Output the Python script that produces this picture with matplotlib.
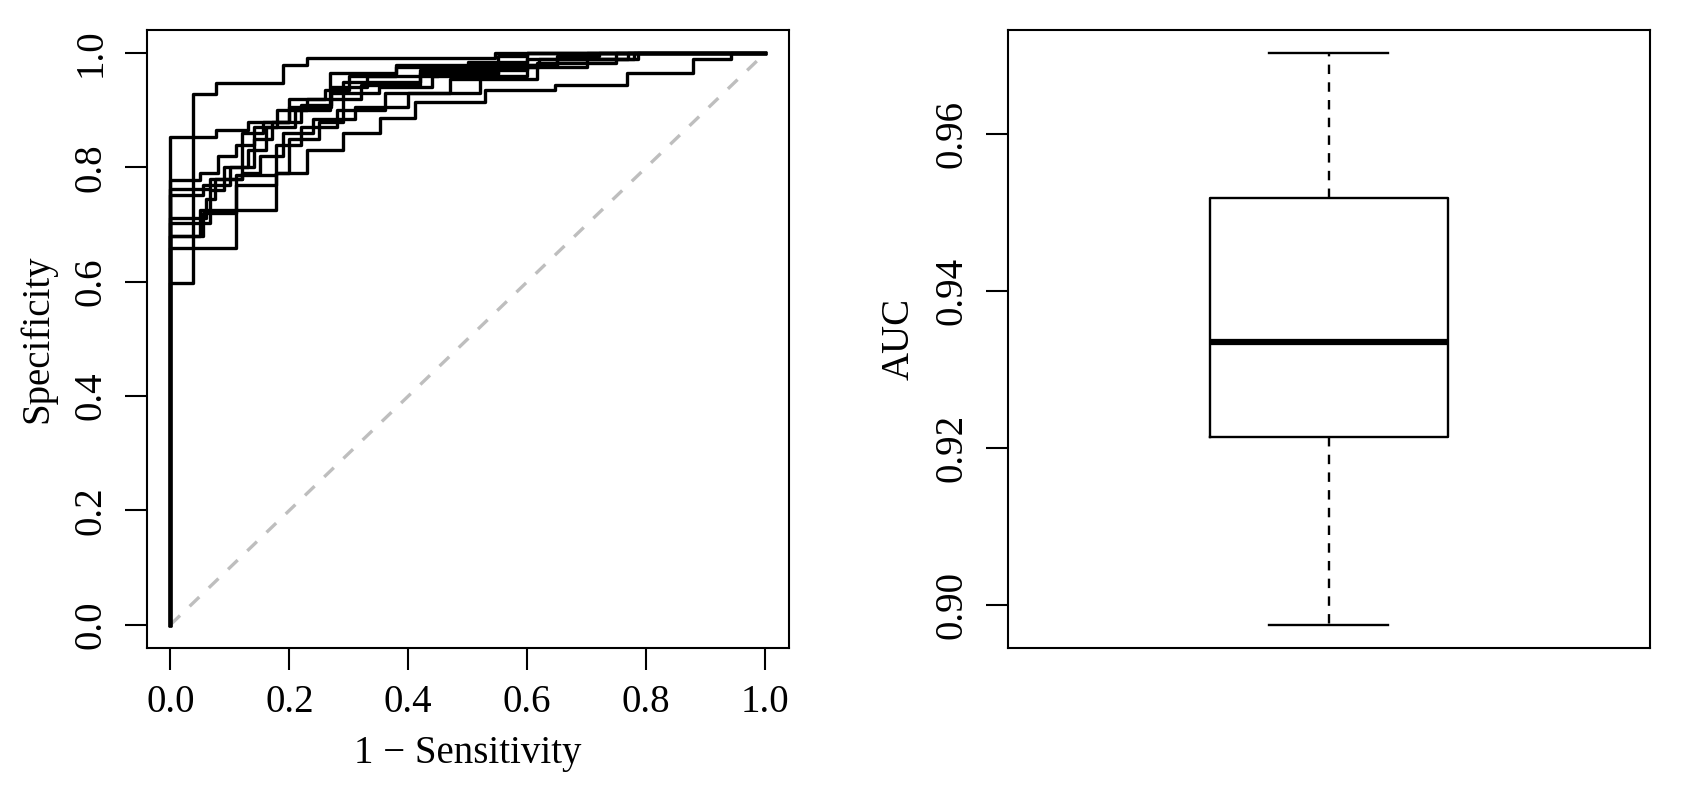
import numpy as np
import matplotlib
matplotlib.use("Agg")
import matplotlib.pyplot as plt

plt.rcParams['font.family'] = ['Liberation Serif', 'DejaVu Serif']

# ROC curves: x = 1 - Sensitivity break points, y = Specificity levels
roc_x = [
    [0, 0, 0.038, 0.077, 0.189, 0.229, 0.546, 1.0],
    [0, 0, 0.077, 0.131, 0.200, 0.270, 0.330, 0.450, 0.620, 0.750, 1.0],
    [0, 0, 0.111, 0.178, 0.220, 0.280, 0.360, 0.470, 0.616, 0.750, 0.786, 1.0],
    [0, 0, 0.050, 0.178, 0.200, 0.250, 0.290, 0.420, 0.600, 0.700, 1.0],
    [0, 0, 0.066, 0.090, 0.130, 0.160, 0.210, 0.268, 0.380, 0.550, 0.600, 1.0],
    [0, 0, 0.060, 0.075, 0.120, 0.150, 0.190, 0.240, 0.310, 0.400, 0.520, 0.600, 0.700, 0.780, 1.0],
    [0, 0, 0.055, 0.100, 0.140, 0.170, 0.200, 0.260, 0.300, 0.380, 0.500, 0.600, 1.0],
    [0, 0, 0.066, 0.120, 0.155, 0.220, 0.270, 0.350, 0.440, 0.550, 0.650, 0.720, 1.0],
    [0, 0, 0.050, 0.080, 0.110, 0.140, 0.180, 0.230, 0.320, 0.420, 0.550, 0.650, 0.770, 1.0],
    [0, 0, 0.055, 0.110, 0.178, 0.230, 0.290, 0.352, 0.411, 0.529, 0.646, 0.767, 0.879, 0.943, 1.0],
]
roc_y = [
    [0, 0.598, 0.928, 0.947, 0.979, 0.991, 1.0, 1.0],
    [0, 0.854, 0.865, 0.880, 0.905, 0.940, 0.960, 0.975, 0.990, 1.0, 1.0],
    [0, 0.659, 0.787, 0.840, 0.870, 0.900, 0.930, 0.955, 0.982, 0.990, 1.0, 1.0],
    [0, 0.680, 0.725, 0.790, 0.850, 0.880, 0.950, 0.970, 0.990, 1.0, 1.0],
    [0, 0.702, 0.760, 0.800, 0.830, 0.870, 0.900, 0.965, 0.980, 0.995, 1.0, 1.0],
    [0, 0.711, 0.745, 0.780, 0.790, 0.820, 0.860, 0.885, 0.905, 0.930, 0.960, 0.975, 0.990, 1.0, 1.0],
    [0, 0.752, 0.770, 0.800, 0.850, 0.880, 0.920, 0.935, 0.960, 0.975, 0.985, 1.0, 1.0],
    [0, 0.763, 0.780, 0.860, 0.880, 0.910, 0.930, 0.940, 0.960, 0.980, 0.995, 1.0, 1.0],
    [0, 0.778, 0.790, 0.820, 0.840, 0.870, 0.900, 0.920, 0.945, 0.965, 0.980, 0.990, 1.0, 1.0],
    [0, 0.680, 0.720, 0.770, 0.790, 0.830, 0.860, 0.886, 0.915, 0.935, 0.944, 0.965, 0.989, 1.0, 1.0],
]

# AUC of each model
auc = [0.8975, 0.9150, 0.9214, 0.9262, 0.9310, 0.9361, 0.9440, 0.9519, 0.9598, 0.9703]

fig = plt.figure(figsize=(16.89, 7.85), dpi=100)
ax1 = fig.add_axes([0.0868, 0.175, 0.3803, 0.7865])
ax2 = fig.add_axes([0.5966, 0.175, 0.3802, 0.7865])

fs = 28
lw_axis = 1.5

# left: ROC curves
ax1.plot([0, 1], [0, 1], color='#BEBEBE', lw=2.4, dashes=(4, 4))
for xs, ys in zip(roc_x, roc_y):
    ax1.step(xs, ys, where='post', color='black', lw=2.4)

ax1.set_xlim(-0.04, 1.04)
ax1.set_ylim(-0.04, 1.04)
ticks = np.arange(0, 1.01, 0.2)
ax1.set_xticks(ticks)
ax1.set_yticks(ticks)
ax1.set_xticklabels(['%.1f' % t for t in ticks])
ax1.set_yticklabels(['%.1f' % t for t in ticks])
ax1.set_xlabel('1 \u2212 Sensitivity', fontsize=fs, labelpad=10)
ax1.set_ylabel('Specificity', fontsize=fs, labelpad=12)

# right: AUC boxplot (Tukey hinges like R)
a = np.sort(np.array(auc))
n = len(a)
half = (n + 1) // 2
stats = [dict(med=np.median(a), q1=np.median(a[:half]), q3=np.median(a[n - half:]),
              whislo=a.min(), whishi=a.max(), fliers=[])]
ax2.bxp(stats, positions=[1], widths=0.4, capwidths=0.2, showfliers=False,
        boxprops=dict(color='black', lw=1.7),
        medianprops=dict(color='black', lw=4.5, solid_capstyle='butt'),
        whiskerprops=dict(color='black', lw=1.7, dashes=(4, 3.5)),
        capprops=dict(color='black', lw=1.7))
ax2.set_xlim(0.46, 1.54)
rng = a.max() - a.min()
ax2.set_ylim(a.min() - 0.04 * rng, a.max() + 0.04 * rng)
yt = [0.90, 0.92, 0.94, 0.96]
ax2.set_yticks(yt)
ax2.set_yticklabels(['%.2f' % t for t in yt])
ax2.set_xticks([])
ax2.set_ylabel('AUC', fontsize=fs, labelpad=12)

for ax in (ax1, ax2):
    for s in ax.spines.values():
        s.set_linewidth(lw_axis)
    ax.tick_params(length=15.5, width=lw_axis, labelsize=fs, pad=11)
    ax.tick_params(axis='y', labelrotation=90)
    for lab in ax.get_yticklabels():
        lab.set_va('center')

fig.savefig('out.png', dpi=100)
